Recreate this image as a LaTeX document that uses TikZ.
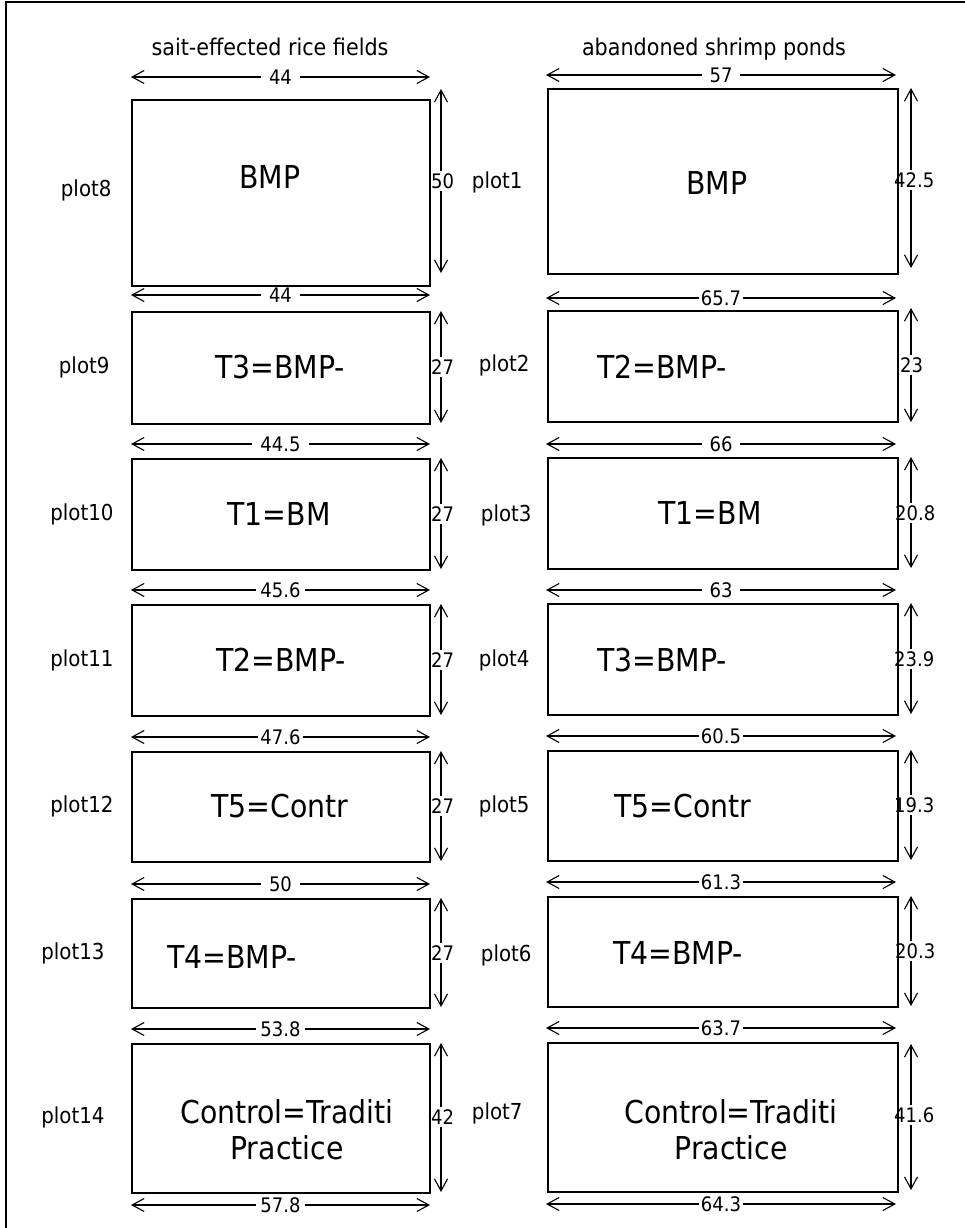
\documentclass[tikz,border=0pt]{standalone}
\usepackage{fontspec}
\setmainfont{DejaVu Sans}[FakeStretch=0.9]
\usetikzlibrary{arrows.meta}
\begin{document}
\begin{tikzpicture}[x=1pt,y=-1pt,
  plotbox/.style={draw, line width=1.8pt, inner sep=0pt, anchor=north west},
  barb/.tip={Straight Barb[length=12pt,width=13pt,line width=1.1pt]},
  dim/.style={line width=1.1pt, barb-barb},
  hlab/.style={fill=white, font=\fontsize{20}{22}\selectfont, inner xsep=2pt, inner ysep=0pt, text height=14.6pt, text depth=0pt},
  widegap/.style={inner xsep=8pt},
  vlab/.style={fill=white, font=\fontsize{20}{22}\selectfont, anchor=west, inner xsep=0pt, inner ysep=3pt, text height=14.6pt, text depth=0pt},
  plotlab/.style={font=\fontsize{22}{25}\selectfont, anchor=east},
  boxlab/.style={font=\fontsize{31.5}{36}\selectfont, align=center},
  titlelab/.style={font=\fontsize{23}{26}\selectfont, anchor=base}
]
\useasboundingbox (0,0) rectangle (965,1228);
\draw[line width=2pt] (6,1228) -- (6,2) -- (965,2);

% titles
\node[titlelab] (tl) at (270,56) {sait-effected rice fields};
\node[titlelab] (tr) at (714,56) {abandoned shrimp ponds};

% ---------- left column: horizontal dimensions
\draw[dim] (131,77)   -- node[hlab,widegap] (hl0) {44}   (430,77);
\draw[dim] (131,295)  -- node[hlab,widegap] (hl1) {44}   (430,295);
\draw[dim] (131,444)  -- node[hlab,widegap] (hl2) {44.5} (430,444);
\draw[dim] (131,590)  -- node[hlab,inner xsep=4pt] (hl3) {45.6} (430,590);
\draw[dim] (131,737)  -- node[hlab] (hl4) {47.6} (430,737);
\draw[dim] (131,884)  -- node[hlab,widegap] (hl5) {50}   (430,884);
\draw[dim] (131,1029) -- node[hlab,inner xsep=4pt] (hl6) {53.8} (430,1029);
\draw[dim] (131,1205) -- node[hlab,inner xsep=4pt] (hl7) {57.8} (430,1205);

% ---------- right column: horizontal dimensions
\draw[dim] (546,75)   -- node[hlab,widegap] (hr0) {57}   (896,75);
\draw[dim] (546,298)  -- node[hlab] (hr1) {65.7} (896,298);
\draw[dim] (546,444)  -- node[hlab,widegap] (hr2) {66}   (896,444);
\draw[dim] (546,590)  -- node[hlab,widegap] (hr3) {63}   (896,590);
\draw[dim] (546,736)  -- node[hlab] (hr4) {60.5} (896,736);
\draw[dim] (546,882)  -- node[hlab] (hr5) {61.3} (896,882);
\draw[dim] (546,1028) -- node[hlab] (hr6) {63.7} (896,1028);
\draw[dim] (546,1204) -- node[hlab] (hr7) {64.3} (896,1204);

% ---------- vertical dimensions left
\draw[dim] (441,89)   -- (441,273);
\draw[dim] (441,311)  -- (441,423);
\draw[dim] (441,458)  -- (441,569);
\draw[dim] (441,604)  -- (441,715);
\draw[dim] (441,751)  -- (441,861);
\draw[dim] (441,898)  -- (441,1007);
\draw[dim] (441,1043) -- (441,1192);
\node[vlab] (vl1) at (431,181)  {50};
\node[vlab] (vl2) at (431,367)  {27};
\node[vlab] (vl3) at (431,514)  {27};
\node[vlab] (vl4) at (431,660)  {27};
\node[vlab] (vl5) at (431,806)  {27};
\node[vlab] (vl6) at (431,953)  {27};
\node[vlab] (vl7) at (431,1117) {42};

% ---------- vertical dimensions right
\draw[dim] (911,88)   -- (911,268);
\draw[dim] (911,308)  -- (911,422);
\draw[dim] (911,457)  -- (911,568);
\draw[dim] (911,603)  -- (911,714);
\draw[dim] (911,750)  -- (911,860);
\draw[dim] (911,896)  -- (911,1006);
\draw[dim] (911,1044) -- (911,1190);
\node[vlab] (vr1) at (894,180)  {42.5};
\node[vlab] (vr2) at (900,365)  {23};
\node[vlab] (vr3) at (895,513)  {20.8};
\node[vlab] (vr4) at (894,659)  {23.9};
\node[vlab] (vr5) at (894,805)  {19.3};
\node[vlab] (vr6) at (895,951)  {20.3};
\node[vlab] (vr7) at (894,1115) {41.6};

% ---------- boxes left
\node[plotbox, minimum width=298pt, minimum height=186pt] (b8)  at (131,99)   {};
\node[plotbox, minimum width=298pt, minimum height=112pt] (b9)  at (131,311)  {};
\node[plotbox, minimum width=298pt, minimum height=111pt] (b10) at (131,458)  {};
\node[plotbox, minimum width=298pt, minimum height=111pt] (b11) at (131,604)  {};
\node[plotbox, minimum width=298pt, minimum height=110pt] (b12) at (131,751)  {};
\node[plotbox, minimum width=298pt, minimum height=109pt] (b13) at (131,898)  {};
\node[plotbox, minimum width=298pt, minimum height=149pt] (b14) at (131,1043) {};

% ---------- boxes right
\node[plotbox, minimum width=350pt, minimum height=185pt] (b1) at (547,88)   {};
\node[plotbox, minimum width=350pt, minimum height=111pt] (b2) at (547,310)  {};
\node[plotbox, minimum width=350pt, minimum height=111pt] (b3) at (547,457)  {};
\node[plotbox, minimum width=350pt, minimum height=111pt] (b4) at (547,603)  {};
\node[plotbox, minimum width=350pt, minimum height=110pt] (b5) at (547,750)  {};
\node[plotbox, minimum width=350pt, minimum height=110pt] (b6) at (547,896)  {};
\node[plotbox, minimum width=350pt, minimum height=149pt] (b7) at (547,1042) {};

% ---------- box texts left
\node[boxlab] (t8)  at (270,177)  {BMP};
\node[boxlab] (t9)  at (280,367)  {T3=BMP-};
\node[boxlab] (t10) at (279,514)  {T1=BM};
\node[boxlab] (t11) at (281,660)  {T2=BMP-};
\node[boxlab] (t12) at (280,806)  {T5=Contr};
\node[boxlab] (t13) at (232,957)  {T4=BMP-};
\node[boxlab] (t14) at (287,1130) {Control=Traditi\\Practice};

% ---------- box texts right
\node[boxlab] (t1) at (717,183)  {BMP};
\node[boxlab] (t2) at (662,367)  {T2=BMP-};
\node[boxlab] (t3) at (710,513)  {T1=BM};
\node[boxlab] (t4) at (662,660)  {T3=BMP-};
\node[boxlab] (t5) at (683,806)  {T5=Contr};
\node[boxlab] (t6) at (678,953)  {T4=BMP-};
\node[boxlab] (t7) at (731,1130) {Control=Traditi\\Practice};

% ---------- plot labels
\node[plotlab] (p8)  at (115,190)  {plot8};
\node[plotlab] (p9)  at (113,367)  {plot9};
\node[plotlab] (p10) at (117,514)  {plot10};
\node[plotlab] (p11) at (117,660)  {plot11};
\node[plotlab] (p12) at (117,806)  {plot12};
\node[plotlab] (p13) at (108,953)  {plot13};
\node[plotlab] (p14) at (108,1117) {plot14};
\node[plotlab] (p1) at (526,182)  {plot1};
\node[plotlab] (p2) at (533,365)  {plot2};
\node[plotlab] (p3) at (535,515)  {plot3};
\node[plotlab] (p4) at (533,660)  {plot4};
\node[plotlab] (p5) at (533,806)  {plot5};
\node[plotlab] (p6) at (535,955)  {plot6};
\node[plotlab] (p7) at (526,1113) {plot7};
\end{tikzpicture}
\end{document}
